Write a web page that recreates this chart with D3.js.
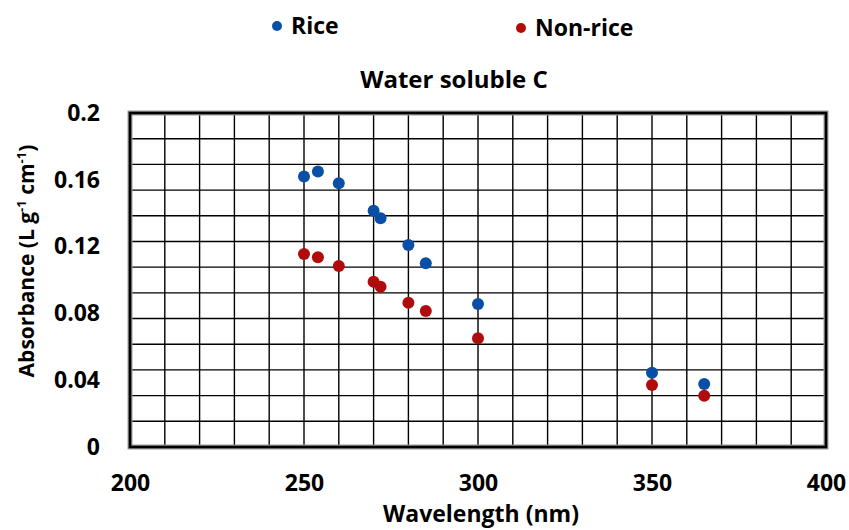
<!DOCTYPE html>
<meta charset="utf-8">
<style>
    body { margin: 0; background: #fff; }
    text { font-family: "Open Sans", sans-serif; font-weight: bold; fill: #000; }
</style>
<svg width="849" height="530"></svg>
<script src="https://d3js.org/d3.v7.min.js"></script>
<script>

    var wavelength = [250, 254, 260, 270, 272, 280, 285, 300, 350, 365];
    var rice =    [0.162, 0.165, 0.158, 0.1415, 0.137, 0.121, 0.110, 0.0856, 0.0445, 0.0377];
    var nonRice = [0.1156, 0.1136, 0.1084, 0.099, 0.096, 0.0864, 0.0814, 0.0651, 0.0371, 0.0307];
    var xTicks = [200, 250, 300, 350, 400];
    var yTicks = [0, 0.04, 0.08, 0.12, 0.16, 0.2];

    var svg = d3.select("svg"),
        plotLeft = 130, plotRight = 826, plotTop = 113, plotBottom = 447;

    var x = d3.scaleLinear().domain([200, 400]).range([plotLeft, plotRight]);
    var y = d3.scaleLinear().domain([0, 0.2]).range([plotBottom, plotTop]);

    // grid: every 10 nm across, 13 equal bands down (as in the picture)
    var grid = svg.append("g").attr("stroke", "#000").attr("stroke-width", 1.4);
    grid.selectAll(".v").data(d3.range(210, 400, 10)).enter().append("line")
        .attr("x1", x).attr("x2", x).attr("y1", plotTop).attr("y2", plotBottom);
    var yGrid = d3.scaleLinear().domain([0, 13]).range([plotBottom, plotTop]);
    grid.selectAll(".h").data(d3.range(1, 13)).enter().append("line")
        .attr("y1", yGrid).attr("y2", yGrid).attr("x1", plotLeft).attr("x2", plotRight);

    // plot frame with soft shadow
    svg.append("rect").attr("x", plotLeft).attr("y", plotTop)
        .attr("width", plotRight - plotLeft).attr("height", plotBottom - plotTop)
        .attr("fill", "none").attr("stroke", "#999").attr("stroke-width", 5);
    svg.append("rect").attr("x", plotLeft).attr("y", plotTop)
        .attr("width", plotRight - plotLeft).attr("height", plotBottom - plotTop)
        .attr("fill", "none").attr("stroke", "#000").attr("stroke-width", 2.6);

    var xAxis = svg.append("g").attr("transform", "translate(0," + plotBottom + ")")
        .call(d3.axisBottom(x).tickValues(xTicks).tickSize(0).tickPadding(28));
    xAxis.select(".domain").remove();

    var yAxis = svg.append("g").attr("transform", "translate(" + plotLeft + ",0)")
        .call(d3.axisLeft(y).tickValues(yTicks).tickSize(0).tickPadding(30)
            .tickFormat(function (d) { return String(+d.toFixed(2)); }));
    yAxis.select(".domain").remove();
    svg.selectAll(".tick text").attr("font-size", "23px")
        .style("font-family", "'Open Sans', sans-serif").style("font-weight", "bold");

    var series = [
        { name: "Rice", values: rice, color: "#0a4fa6" },
        { name: "Non-rice", values: nonRice, color: "#b00c0c" }
    ];

    series.forEach(function (s) {
        svg.append("g").selectAll("circle")
            .data(wavelength).enter().append("circle")
            .attr("cx", function (d) { return x(d); })
            .attr("cy", function (d, i) { return y(s.values[i]); })
            .attr("r", 6)
            .attr("fill", s.color);
    });

    // legend
    var legendX = [277, 521];
    var legend = svg.append("g");
    series.forEach(function (s, i) {
        legend.append("circle").attr("cx", legendX[i]).attr("cy", 26 + i * 2).attr("r", 5).attr("fill", s.color);
        legend.append("text").attr("x", legendX[i] + 14).attr("y", 26 + i * 2).attr("dy", "0.35em")
            .attr("font-size", "23px").text(s.name);
    });

    svg.append("text").attr("x", 454).attr("y", 80).attr("dy", "0.35em")
        .attr("text-anchor", "middle").attr("font-size", "24px").text("Water soluble C");

    svg.append("text").attr("x", 481).attr("y", 522)
        .attr("text-anchor", "middle").attr("font-size", "23px").text("Wavelength (nm)");

    var yl = svg.append("text").attr("transform", "translate(34,261) rotate(-90)")
        .attr("text-anchor", "middle").attr("font-size", "21px");
    yl.append("tspan").text("Absorbance (L g");
    yl.append("tspan").attr("font-size", "13px").attr("dy", "-8").text("-1");
    yl.append("tspan").attr("dy", "8").text(" cm");
    yl.append("tspan").attr("font-size", "13px").attr("dy", "-8").text("-1");
    yl.append("tspan").attr("dy", "8").text(")");

</script>
